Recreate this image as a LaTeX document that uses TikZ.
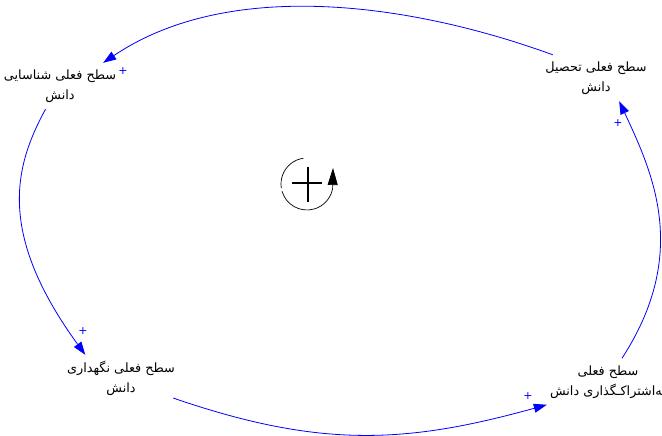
\documentclass[tikz,border=0pt]{standalone}
\usepackage{fontspec}
\TeXXeTstate=1
\newfontfamily\arabicfont[Script=Arabic]{DejaVu Sans}
\usetikzlibrary{arrows.meta}
\begin{document}
\begin{tikzpicture}[x=1pt,y=1pt,
  varbox/.style={inner sep=0pt, minimum width=86pt, minimum height=46pt},
  vartext/.style={inner sep=0pt, align=center, text=black, font=\arabicfont\fontsize{12.8}{20}\selectfont},
  link/.style={draw=blue, line width=0.8pt, -{Triangle[length=13pt,width=9pt,fill=blue]}},
  pol/.style={text=blue, inner sep=0pt, font=\arabicfont\fontsize{11}{11}\selectfont},
  loopline/.style={draw=black, line width=0.7pt}]
\path[use as bounding box, clip] (0,0) rectangle (662,436);
\fill[white] (0,0) rectangle (662,436);
% variables
\node[varbox, label={[vartext]center:{\beginR سطح فعلی شناسایی\endR\\\beginR دانش\endR}}] (tl) at (60,350) {};
\node[varbox, label={[vartext]center:{\beginR سطح فعلی تحصیل\endR\\\beginR دانش\endR}}] (tr) at (596,358) {};
\node[varbox, minimum width=104pt, label={[vartext]center:{\beginR سطح فعلی نگهداری\endR\\\beginR دانش\endR}}] (bl) at (121,58) {};
\node[varbox, minimum width=122pt, minimum height=48pt, label={[vartext]center:{\beginR سطح فعلی\endR\\\beginR به‌اشتراکـگذاری دانش\endR}}] (br) at (608,53.5) {};
% links
\draw[link] (tr.north west) .. controls +(160:155) and +(34:150) .. (tl.north east);
\draw[link] (tl.238) .. controls +(241.5:65) and +(126:151) .. (bl.147);
\draw[link] (bl.-21) .. controls +(-19:156) and +(195.5:145) .. (br.200);
\draw[link] (br.60) .. controls +(57:125) and +(-65:80) .. (tr.-45);
% polarities
\node[pol] (p1) at (123,365) {+};
\node[pol] (p2) at (83,105) {+};
\node[pol] (p3) at (528,40) {+};
\node[pol] (p4) at (618,313) {+};
% loop symbol
\coordinate (lc) at (307,252);
\draw[loopline] ([shift={(98:26)}]lc) arc[start angle=98, end angle=189, radius=26];
\draw[loopline, -{Triangle[length=17pt,width=10pt,fill=black]}] ([shift={(196:26)}]lc) arc[start angle=196, end angle=350, radius=26] -- ++(0.4,20.5);
\draw[line width=1.5pt] ([shift={(-15,1)}]lc) -- ([shift={(15,1)}]lc);
\draw[line width=1.5pt] ([shift={(1,17)}]lc) -- ([shift={(1,-18)}]lc);
\end{tikzpicture}
\end{document}
